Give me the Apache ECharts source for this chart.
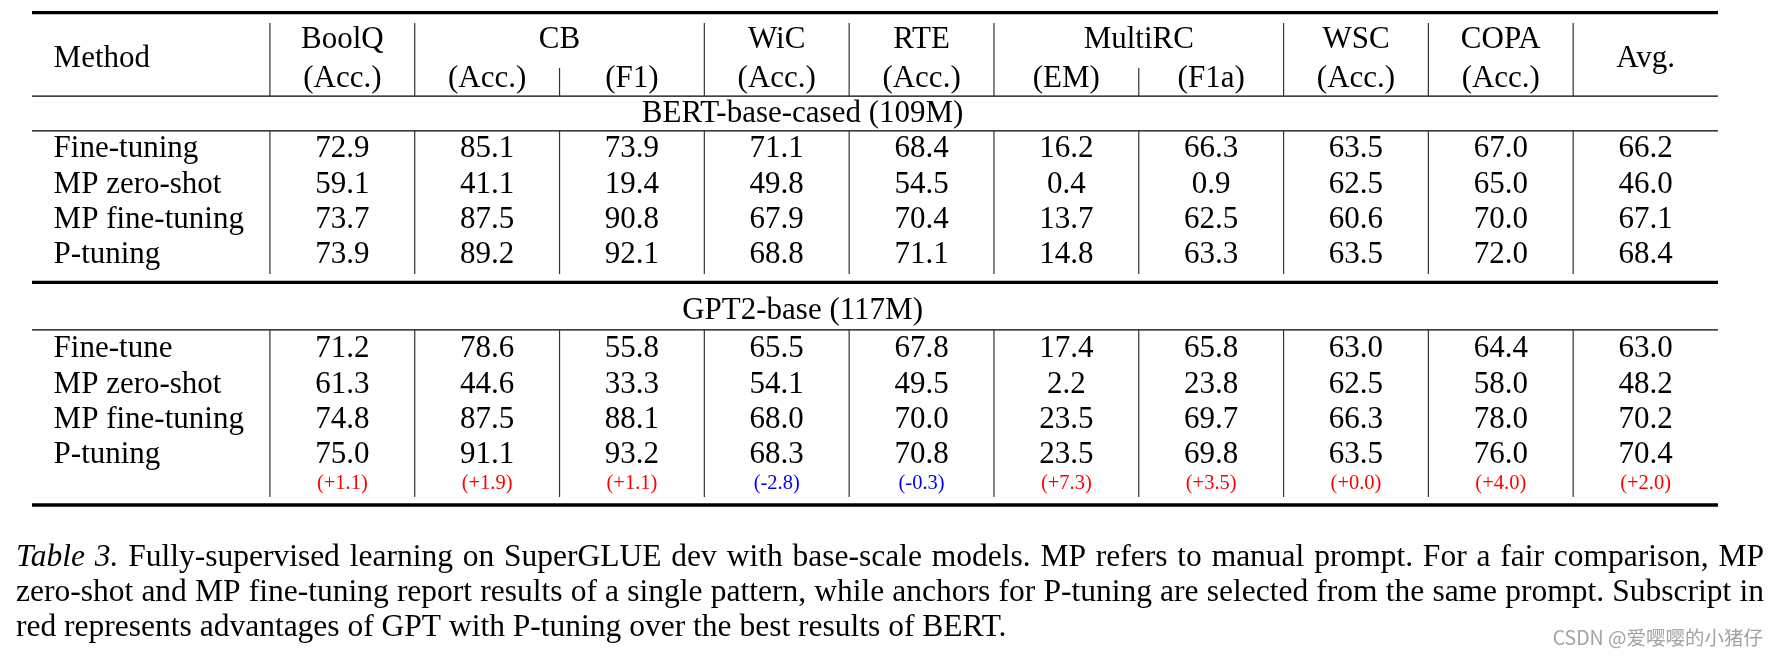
<!DOCTYPE html>
<html>
<head>
<meta charset="utf-8">
<script src="https://cdn.jsdelivr.net/npm/echarts@6/dist/echarts.min.js"></script>
<style>html,body{margin:0;padding:0;background:#fff}#c{width:1778px;height:656px}</style>
</head>
<body>
<div id="c"></div>
<script>
// ---------------- DATA ----------------
const tasks = ['BoolQ', 'CB', 'WiC', 'RTE', 'MultiRC', 'WSC', 'COPA'];
const taskSpans = [1, 2, 1, 1, 2, 1, 1];
const metrics = ['(Acc.)', '(Acc.)', '(F1)', '(Acc.)', '(Acc.)', '(EM)', '(F1a)', '(Acc.)', '(Acc.)'];
const avgLabel = 'Avg.';
const methodHeader = 'Method';

const bertTitle = 'BERT-base-cased (109M)';
const bertMethods = ['Fine-tuning', 'MP zero-shot', 'MP fine-tuning', 'P-tuning'];
const bertFineTuning   = [72.9, 85.1, 73.9, 71.1, 68.4, 16.2, 66.3, 63.5, 67.0, 66.2];
const bertMpZeroShot   = [59.1, 41.1, 19.4, 49.8, 54.5, 0.4, 0.9, 62.5, 65.0, 46.0];
const bertMpFineTuning = [73.7, 87.5, 90.8, 67.9, 70.4, 13.7, 62.5, 60.6, 70.0, 67.1];
const bertPTuning      = [73.9, 89.2, 92.1, 68.8, 71.1, 14.8, 63.3, 63.5, 72.0, 68.4];

const gptTitle = 'GPT2-base (117M)';
const gptMethods = ['Fine-tune', 'MP zero-shot', 'MP fine-tuning', 'P-tuning'];
const gptFineTune      = [71.2, 78.6, 55.8, 65.5, 67.8, 17.4, 65.8, 63.0, 64.4, 63.0];
const gptMpZeroShot    = [61.3, 44.6, 33.3, 54.1, 49.5, 2.2, 23.8, 62.5, 58.0, 48.2];
const gptMpFineTuning  = [74.8, 87.5, 88.1, 68.0, 70.0, 23.5, 69.7, 66.3, 78.0, 70.2];
const gptPTuning       = [75.0, 91.1, 93.2, 68.3, 70.8, 23.5, 69.8, 63.5, 76.0, 70.4];
const gptGain          = [1.1, 1.9, 1.1, -2.8, -0.3, 7.3, 3.5, 0.0, 4.0, 2.0];

const captionItalic = 'Table 3.';
const captionLines = [
  'Fully-supervised learning on SuperGLUE dev with base-scale models. MP refers to manual prompt. For a fair comparison, MP',
  'zero-shot and MP fine-tuning report results of a single pattern, while anchors for P-tuning are selected from the same prompt. Subscript in',
  'red represents advantages of GPT with P-tuning over the best results of BERT.'
];
const watermark = 'CSDN @爱嘤嘤的小猪仔';

// ---------------- LAYOUT (table structure, in column / row units) ----------------
const nCols = 10;
const methodW = 1.643;            // width of Method column in column units
const methodTextX = -1.494;
const R = {
  topRule: -3.83, vTop: -3.53, h1: -3.105, hMid: -2.59, subTop: -2.25, h2: -2.02, hRule: -1.45,
  bertTitle: -1.0, bertRule: -0.46, bertRows: [0, 1, 2, 3], bertEnd: 3.62, midRule: 3.86,
  gptTitle: 4.59, gptRule: 5.21, gptRows: [5.7, 6.7, 7.7, 8.7], gain: 9.52, gptEnd: 9.97, bottomRule: 10.2
};
const SERIF = '"Liberation Serif", "Times New Roman", serif';
const FS = 31, FS_SUB = 20.5, FSC = 31.5, TEXT_DY = 2.3;
const CAP_LEFT = 16, CAP_WIDTH = 1748;

// ---------------- build cells ----------------
const cells = [];
function add(x, y, text, opt) { cells.push(Object.assign({x, y, text, align: 'center', size: FS, color: '#000'}, opt || {})); }

add(methodTextX, R.hMid, methodHeader, {align: 'left'});
let start = 0;
tasks.forEach((t, i) => { add(start + taskSpans[i] / 2, R.h1, t); start += taskSpans[i]; });
metrics.forEach((m, i) => add(i + 0.5, R.h2, m));
add(nCols - 0.5, R.hMid, avgLabel);

const titleX = (-methodW + (nCols - 1)) / 2;
add(titleX, R.bertTitle, bertTitle);
add(titleX, R.gptTitle, gptTitle);

const bertVals = [bertFineTuning, bertMpZeroShot, bertMpFineTuning, bertPTuning];
const gptVals = [gptFineTune, gptMpZeroShot, gptMpFineTuning, gptPTuning];
bertMethods.forEach((m, r) => {
  add(methodTextX, R.bertRows[r], m, {align: 'left'});
  bertVals[r].forEach((v, c) => add(c + 0.5, R.bertRows[r], v.toFixed(1)));
});
gptMethods.forEach((m, r) => {
  add(methodTextX, R.gptRows[r], m, {align: 'left'});
  gptVals[r].forEach((v, c) => add(c + 0.5, R.gptRows[r], v.toFixed(1)));
});
gptGain.forEach((g, c) => add(c + 0.5, R.gain, '(' + (g >= 0 ? '+' : '') + g.toFixed(1) + ')',
  {size: FS_SUB, color: g >= 0 ? '#ff0000' : '#0000ff'}));

// ---------------- rules ----------------
const lines = [];
function hl(y, w) { lines.push({x1: -methodW, y1: y, x2: nCols, y2: y, w, c: '#000'}); }
function vl(x, y1, y2) { lines.push({x1: x, y1, x2: x, y2, w: 1.2, c: '#333'}); }
hl(R.topRule, 3.3); hl(R.hRule, 1.3); hl(R.bertRule, 1.3); hl(R.midRule, 3.3); hl(R.gptRule, 1.3); hl(R.bottomRule, 3.3);
let acc = 0; const groupBounds = [0];
taskSpans.forEach(s => { acc += s; groupBounds.push(acc); });
for (let x = 0; x < nCols; x++) {
  vl(x, groupBounds.includes(x) ? R.vTop : R.subTop, R.hRule);
  vl(x, R.bertRule, R.bertEnd);
  vl(x, R.gptRule, R.gptEnd);
}

// ---------------- caption (justified like the paper) ----------------
const mctx = document.createElement('canvas').getContext('2d');
function mw(t, italic) { mctx.font = (italic ? 'italic ' : '') + FSC + 'px ' + SERIF; return mctx.measureText(t).width; }
const capRich = {
  i: {fontFamily: SERIF, fontSize: FSC, fontStyle: 'italic', color: '#000', lineHeight: 35},
  n: {fontFamily: SERIF, fontSize: FSC, color: '#000', lineHeight: 35}
};
const capText = captionLines.map((line, k) => {
  const words = line.split(' ').map(t => ({t, it: false}));
  if (k === 0) { captionItalic.split(' ').reverse().forEach(t => words.unshift({t, it: true})); }
  const natural = words.reduce((s, w) => s + mw(w.t, w.it), 0);
  const justify = k < captionLines.length - 1;
  const sp = justify ? (CAP_WIDTH - natural) / (words.length - 1) : mw(' ', false);
  capRich['sp' + k] = {fontFamily: SERIF, fontSize: FSC, width: sp, lineHeight: 35};
  return words.map(w => '{' + (w.it ? 'i' : 'n') + '|' + w.t + '}').join('{sp' + k + '| }');
}).join('\n');

// ---------------- chart ----------------
const chart = echarts.init(document.getElementById('c'), null, {renderer: 'canvas'});
chart.setOption({
  animation: false,
  backgroundColor: '#fff',
  title: [{
    left: CAP_LEFT, top: 540, padding: 0,
    text: capText,
    textStyle: {fontFamily: SERIF, fontSize: FSC, fontWeight: 'normal', color: '#000', lineHeight: 35, rich: capRich}
  }, {
    right: 15, top: 628, padding: 0, text: watermark,
    textStyle: {fontFamily: '"Noto Sans CJK SC", sans-serif', fontSize: 19.5, fontWeight: 'normal', color: '#a3a3a3'}
  }],
  grid: {left: 32, right: 60, top: 13.6, bottom: 151},
  xAxis: {type: 'value', min: -methodW, max: nCols, show: false},
  yAxis: {type: 'value', min: -3.8, max: 10.2, inverse: true, show: false},
  series: [{
    type: 'custom', clip: false, silent: true,
    encode: {x: [0, 2], y: [1, 3]},
    data: lines.map(l => [l.x1, l.y1, l.x2, l.y2]),
    renderItem: (params, api) => {
      const l = lines[params.dataIndex];
      const p1 = api.coord([api.value(0), api.value(1)]);
      const p2 = api.coord([api.value(2), api.value(3)]);
      return {type: 'line', shape: {x1: p1[0], y1: p1[1], x2: p2[0], y2: p2[1]},
        style: {stroke: l.c, lineWidth: l.w}};
    }
  }, {
    type: 'custom', clip: false, silent: true,
    encode: {x: 0, y: 1},
    data: cells.map(c => [c.x, c.y]),
    renderItem: (params, api) => {
      const c = cells[params.dataIndex];
      const p = api.coord([api.value(0), api.value(1)]);
      return {type: 'text', x: p[0], y: p[1] + TEXT_DY,
        style: {text: c.text, fontFamily: SERIF, fontSize: c.size, fill: c.color,
          align: c.align, verticalAlign: 'middle'}};
    }
  }]
});
</script>
</body>
</html>
